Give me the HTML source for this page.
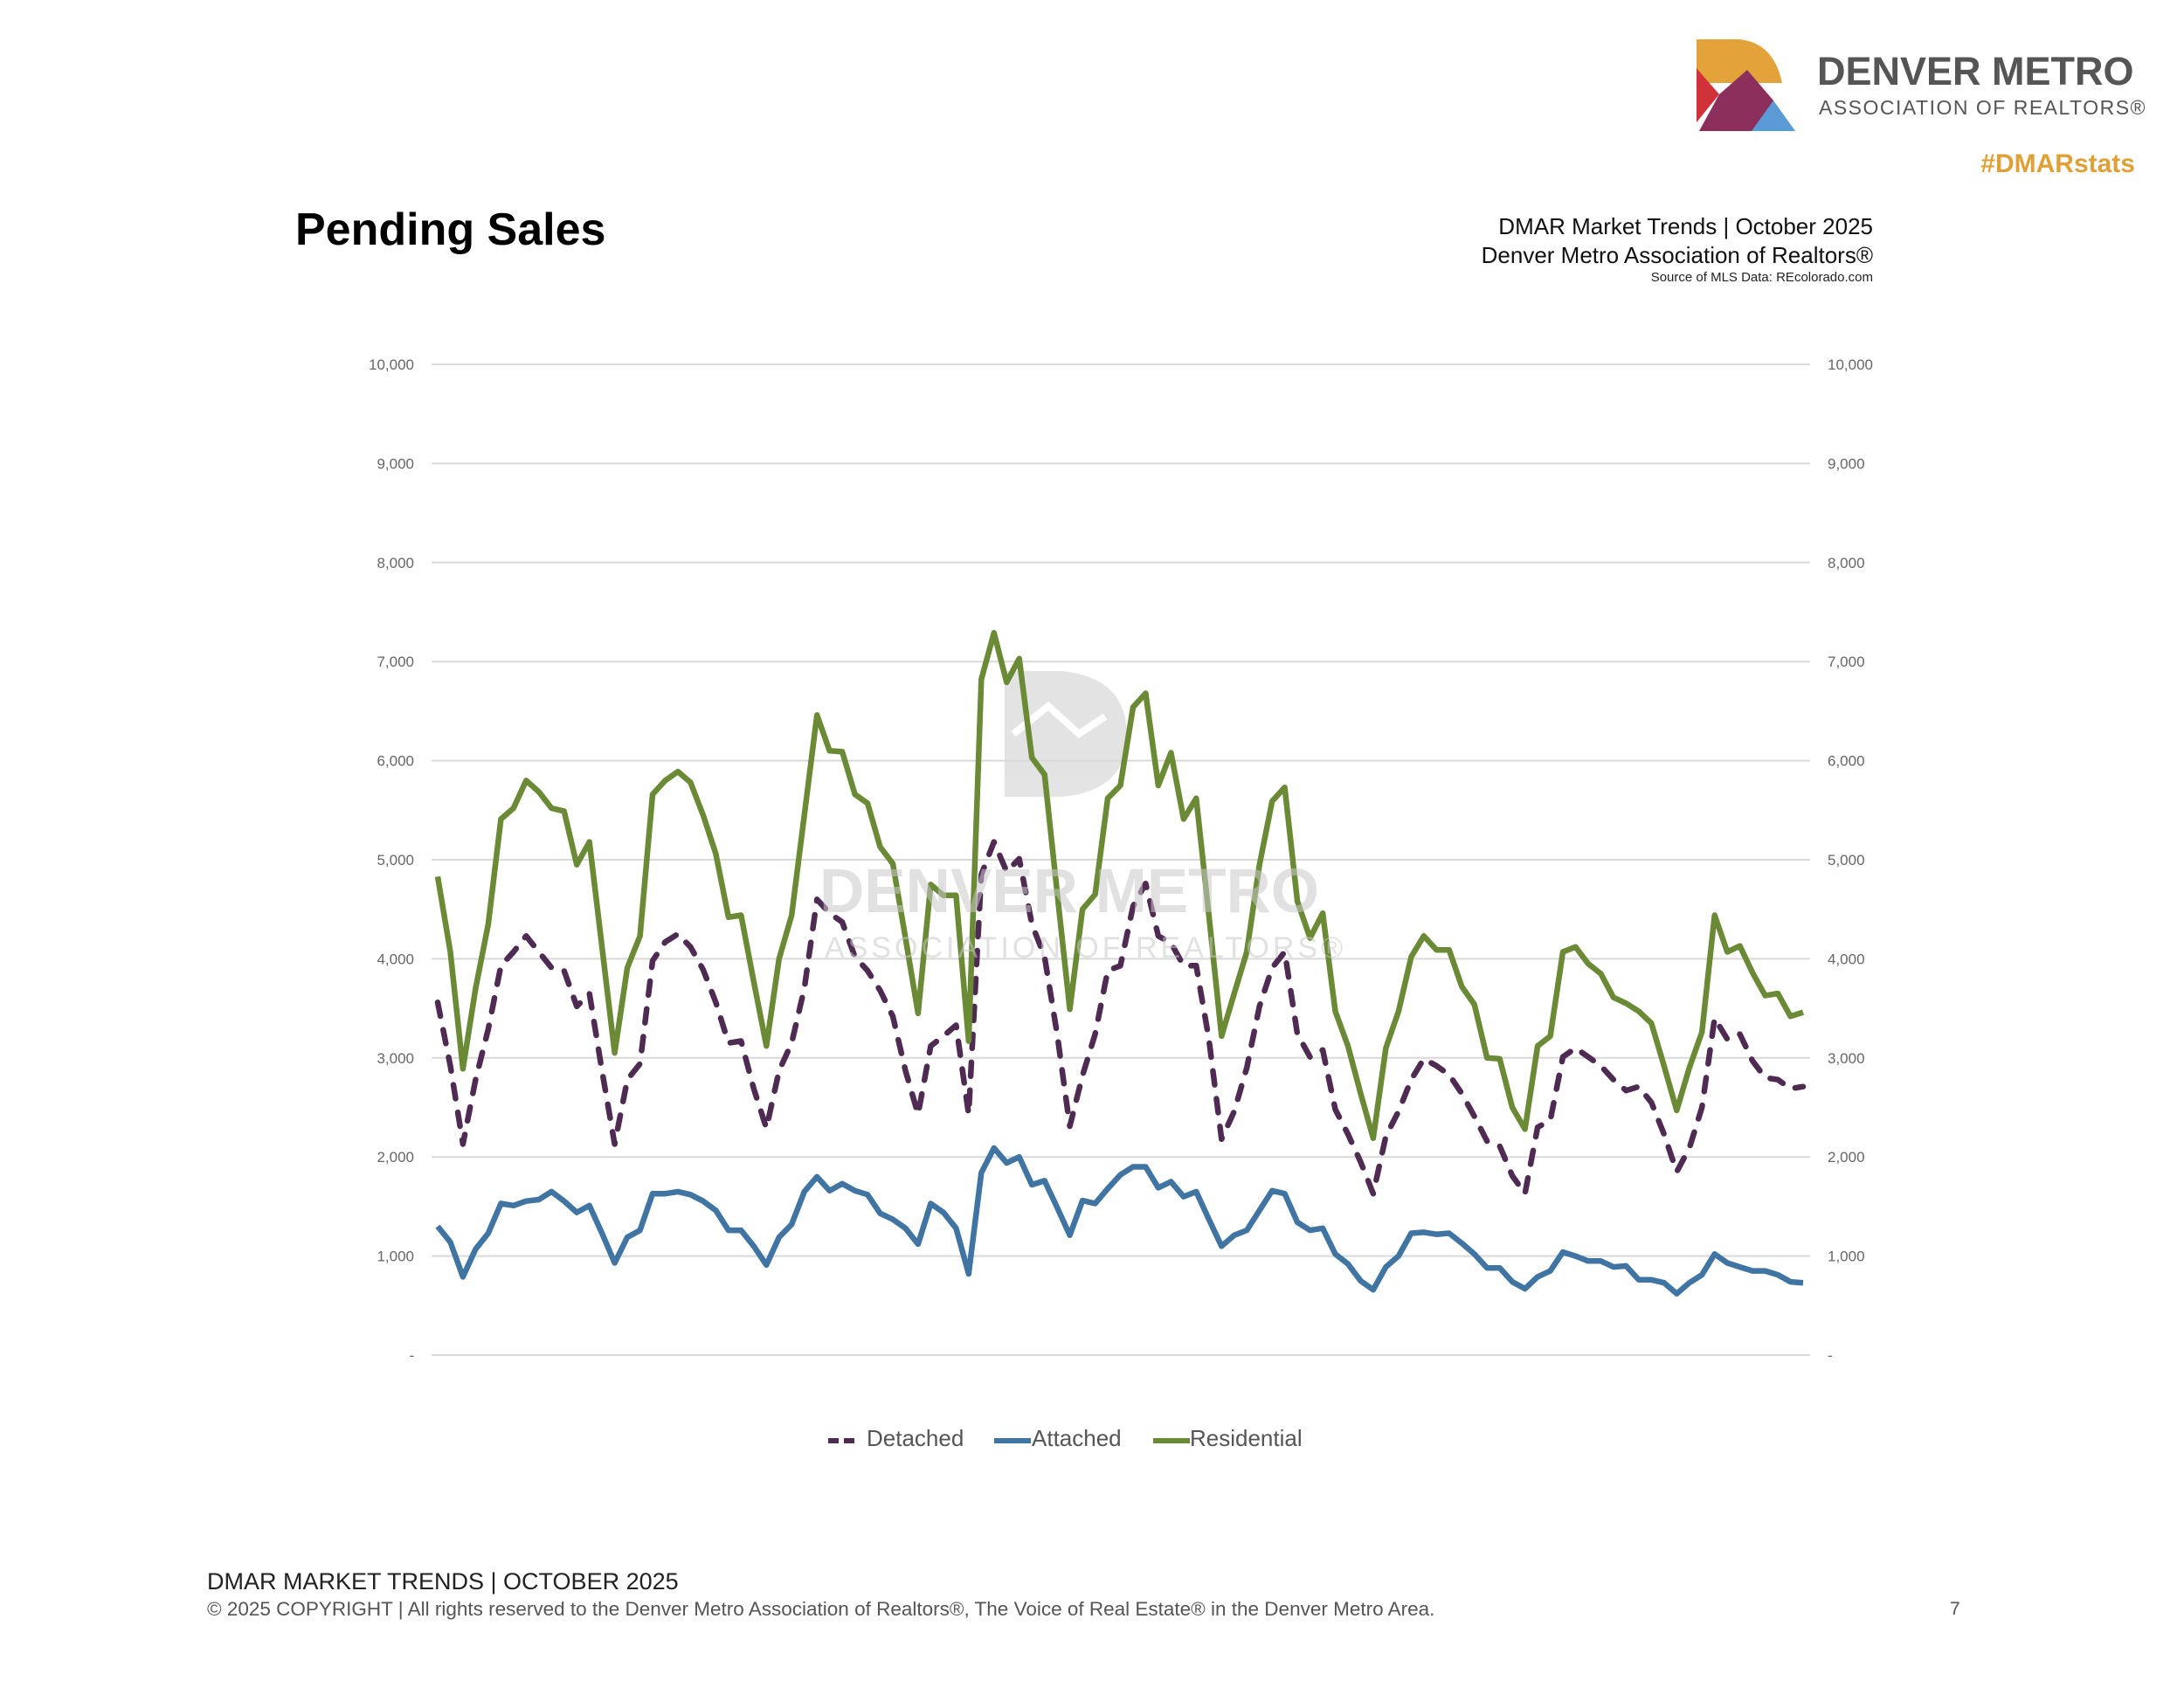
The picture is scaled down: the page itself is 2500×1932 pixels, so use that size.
<!DOCTYPE html>
<html><head><meta charset="utf-8"><title>Pending Sales</title>
<style>
body{margin:0;background:#fff;}
#page{position:relative;width:2500px;height:1932px;overflow:hidden;font-family:"Liberation Sans",sans-serif;}
.t{position:absolute;white-space:nowrap;}
</style></head><body>
<div id="page">
<svg width="2500" height="1932" style="position:absolute;left:0;top:0">
  <g>
    <path d="M1942,45 L1990,45 Q2030,48 2040,95 L1942,95 Z" fill="#e3a33a"/>
    <path d="M1942,78 L1968,108 L1942,140 Z" fill="#d1323a"/>
    <path d="M1968,108 L2000,80 L2030,115 L2030,150 L1945,150 Z" fill="#8c2f5c"/>
    <path d="M2030,115 L2055,150 L2005,150 Z" fill="#5b9bd5"/>
  </g>
  <g opacity="0.9">
    <path d="M1150,768 L1215,768 Q1290,775 1290,842 Q1290,905 1215,912 L1150,912 Z" fill="#e1e1e1"/>
    <path d="M1160,840 L1200,808 L1235,840 L1265,820" stroke="#fff" stroke-width="8" fill="none"/>
  </g>
  <g id="grid"></g>
  <g id="lines"></g>
  <g id="ticks"></g>
</svg>
<div class="t" style="left:938px;top:980px;font-size:71px;font-weight:bold;color:rgba(200,200,200,0.55)">DENVER METRO</div>
<div class="t" style="left:944px;top:1066px;font-size:34px;color:rgba(200,200,200,0.55);letter-spacing:4px">ASSOCIATION OF REALTORS®</div>

<div class="t" style="left:2080px;top:56px;font-size:45px;font-weight:bold;color:#555">DENVER METRO</div>
<div class="t" style="left:2082px;top:110px;font-size:23px;color:#555;letter-spacing:1.5px">ASSOCIATION OF REALTORS®</div>
<div class="t" style="right:56px;top:171px;font-size:30px;font-weight:bold;color:#e0a035">#DMARstats</div>

<div class="t" style="left:338px;top:233px;font-size:52px;font-weight:bold;color:#000">Pending Sales</div>
<div class="t" style="right:356px;top:244px;font-size:26px;color:#111">DMAR Market Trends | October 2025</div>
<div class="t" style="right:356px;top:277px;font-size:26px;color:#111">Denver Metro Association of Realtors®</div>
<div class="t" style="right:356px;top:309px;font-size:15px;color:#222">Source of MLS Data: REcolorado.com</div>

<div style="position:absolute;left:940px;top:1630px;height:36px;font-size:26px;color:#555">
  <svg class="t" style="left:8px;top:16px" width="30" height="6"><line x1="0" y1="3" x2="30" y2="3" stroke="#4f2a52" stroke-width="6" stroke-dasharray="12,6"/></svg>
  <div class="t" style="left:52px;top:1px">Detached</div>
  <svg class="t" style="left:198px;top:16px" width="42" height="6"><line x1="0" y1="3" x2="42" y2="3" stroke="#3f74a3" stroke-width="6"/></svg>
  <div class="t" style="left:241px;top:1px">Attached</div>
  <svg class="t" style="left:380px;top:16px" width="42" height="6"><line x1="0" y1="3" x2="42" y2="3" stroke="#6a8a35" stroke-width="6"/></svg>
  <div class="t" style="left:422px;top:1px">Residential</div>
</div>

<div class="t" style="left:237px;top:1795px;font-size:27px;color:#222">DMAR MARKET TRENDS | OCTOBER 2025</div>
<div class="t" style="left:237px;top:1829px;font-size:22.5px;color:#555">© 2025 COPYRIGHT | All rights reserved to the Denver Metro Association of Realtors®, The Voice of Real Estate® in the Denver Metro Area.</div>
<div class="t" style="left:2232px;top:1830px;font-size:21px;color:#555">7</div>
</div>
<script>
const yTicks=[0,1000,2000,3000,4000,5000,6000,7000,8000,9000,10000];
const yTickLabels=["-","1,000","2,000","3,000","4,000","5,000","6,000","7,000","8,000","9,000","10,000"];
const residential=[4830,4070,2890,3700,4350,5410,5520,5800,5685,5520,5490,4950,5180,4120,3050,3910,4230,5660,5800,5890,5780,5450,5060,4420,4440,3770,3120,4000,4440,5450,6460,6100,6090,5660,5570,5130,4960,4210,3450,4750,4640,4640,3170,6820,7290,6790,7030,6030,5860,4670,3490,4500,4650,5620,5750,6540,6680,5750,6080,5410,5620,4440,3220,3650,4070,4950,5590,5730,4580,4210,4460,3470,3120,2640,2190,3100,3470,4020,4230,4090,4090,3720,3540,3000,2990,2500,2280,3120,3220,4070,4120,3950,3850,3610,3550,3470,3350,2920,2470,2900,3260,4440,4070,4130,3860,3630,3650,3420,3460];
const detached=[3560,2920,2130,2780,3290,3930,4070,4230,4070,3910,3880,3520,3650,2870,2130,2780,2940,3980,4170,4250,4120,3890,3560,3150,3170,2690,2290,2870,3150,3700,4600,4460,4370,4020,3880,3680,3420,2870,2430,3120,3220,3330,2430,4850,5180,4880,5010,4350,4020,3240,2310,2820,3240,3880,3930,4530,4760,4230,4160,3930,3930,3190,2180,2460,2900,3520,3910,4070,3240,3010,3080,2480,2230,1950,1630,2210,2460,2780,2990,2920,2830,2640,2410,2160,2110,1810,1630,2300,2370,3010,3100,3010,2920,2780,2670,2710,2550,2230,1850,2090,2500,3400,3190,3240,2970,2800,2780,2690,2710];
const attached=[1300,1140,790,1070,1230,1530,1510,1555,1570,1650,1555,1440,1510,1230,930,1190,1260,1630,1630,1650,1620,1555,1460,1260,1260,1100,910,1190,1320,1650,1800,1660,1730,1660,1620,1430,1370,1280,1120,1530,1440,1280,820,1840,2090,1940,2000,1720,1760,1490,1210,1560,1530,1680,1820,1900,1900,1690,1750,1600,1650,1370,1100,1210,1260,1460,1660,1630,1340,1260,1280,1020,920,750,660,890,1000,1230,1240,1220,1230,1130,1020,880,880,740,670,790,850,1040,1000,950,950,890,900,760,760,730,620,730,810,1020,930,890,850,850,810,740,730];
const NS="http://www.w3.org/2000/svg";
const X0=501,X1=2064,Y0=1551,Y1=417,GX0=494,GX1=2072;
function xs(i,n){return X0+(X1-X0)*i/(n-1);}
function ys(v){return Y0-(Y0-Y1)*v/10000;}
const grid=document.getElementById('grid'),ticks=document.getElementById('ticks'),lines=document.getElementById('lines');
yTicks.forEach((v,k)=>{
  const l=document.createElementNS(NS,'line');
  l.setAttribute('x1',GX0);l.setAttribute('x2',GX1);l.setAttribute('y1',ys(v));l.setAttribute('y2',ys(v));
  l.setAttribute('stroke','#d9d9d9');l.setAttribute('stroke-width','2');
  
  
  grid.appendChild(l);
  [[474,'end'],[2092,'start']].forEach(([x,a])=>{
    const t=document.createElementNS(NS,'text');
    t.setAttribute('x',x);t.setAttribute('y',ys(v)+6);t.setAttribute('text-anchor',a);
    t.setAttribute('font-size','17');t.setAttribute('fill','#666');t.setAttribute('font-family','Liberation Sans, sans-serif');
    t.textContent=yTickLabels[k];
    
    
    ticks.appendChild(t);
  });
});
function draw(arr,color,dash,name){
  const p=document.createElementNS(NS,'polyline');
  p.setAttribute('points',arr.map((v,i)=>xs(i,arr.length).toFixed(1)+','+ys(v).toFixed(1)).join(' '));
  p.setAttribute('fill','none');p.setAttribute('stroke',color);p.setAttribute('stroke-width','6.5');
  p.setAttribute('stroke-linejoin','round');
  if(dash){p.setAttribute('stroke-dasharray',dash);p.setAttribute('stroke-linecap','round');}
  
  
  lines.appendChild(p);
}
draw(attached,'#3f74a3',null,'attached-line');
draw(detached,'#4f2a52','16,16','detached-line');
draw(residential,'#6a8a35',null,'residential-line');
</script>
</body></html>
